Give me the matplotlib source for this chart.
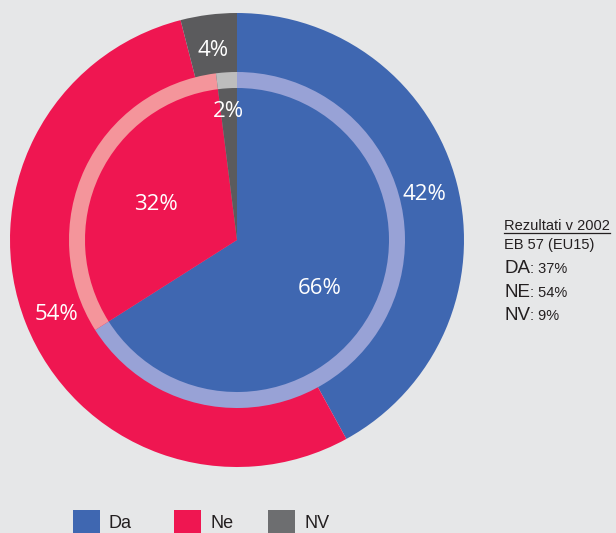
import numpy as np
import matplotlib.pyplot as plt

# data
categories = ['Da', 'Ne', 'NV']
outer_vals = [42, 54, 4]
inner_vals = [66, 32, 2]
colors = ['#3f67b1', '#ef1651', '#5b5b5d']
ring_colors = ['#98a2d6', '#f4959b', '#bdbdbd']
legend_colors = ['#3f67b1', '#ef1651', '#6d6e70']
side_title = 'Rezultati v 2002'
side_sub = 'EB 57 (EU15)'
side_keys = ['DA', 'NE', 'NV']
side_vals = ['37%', '54%', '9%']

bg = '#e6e7e8'
txt = '#231f20'
W, H = 616, 533
fig = plt.figure(figsize=(W / 100, H / 100), dpi=100, facecolor=bg)
ax = fig.add_axes([0, 0, 1, 1])
ax.set_facecolor(bg)

cx, cy = 237, H - 240
r_out, r_ring, r_in = 227, 168, 152

kw = dict(startangle=90, counterclock=False, center=(cx, cy),
          wedgeprops=dict(linewidth=0))
ax.pie(outer_vals, radius=r_out, colors=colors, **kw)
ax.pie(inner_vals, radius=r_ring, colors=ring_colors, **kw)
ax.pie(inner_vals, radius=r_in, colors=colors, **kw)

ax.set_xlim(0, W)
ax.set_ylim(0, H)
ax.set_aspect('auto')
ax.axis('off')


def add_labels(vals, radii):
    cum = np.cumsum([0] + vals)
    for i, v in enumerate(vals):
        mid = np.deg2rad(90 - (cum[i] + v / 2) / 100 * 360)
        ax.text(cx + radii[i] * np.cos(mid), cy + radii[i] * np.sin(mid) - 3,
                f'{v}%', color='white', fontsize=16, family='Open Sans',
                ha='center', va='center')


add_labels(outer_vals, [194, 194, 194])
add_labels(inner_vals, [94, 90, 132])

# side text
tx = 504
t = ax.text(tx, H - 230, side_title, fontsize=10.5, family='Liberation Sans',
            color=txt, va='baseline')
ax.text(tx, H - 249, side_sub, fontsize=10.5, family='Liberation Sans',
        color=txt, va='baseline')
keys = []
for i, k in enumerate(side_keys):
    y = H - [273, 297, 320][i]
    keys.append(ax.text(tx, y, k, fontsize=13.5, family='Liberation Sans',
                        color=txt, va='baseline'))

fig.canvas.draw()
bb = t.get_window_extent()
ax.plot([bb.x0, bb.x1], [H - 232.5, H - 232.5], color=txt, lw=0.9)
for k, v in zip(keys, side_vals):
    kb = k.get_window_extent()
    ax.text(kb.x1, k.get_position()[1], ': ' + v, fontsize=10.5,
            family='Liberation Sans', color=txt, va='baseline')

# legend
lx = [73, 174, 268]
for x, c, name in zip(lx, legend_colors, categories):
    ax.add_patch(plt.Rectangle((x, 0), 27, H - 510, color=c, lw=0))
    ax.text(x + 36, H - 523, name, fontsize=13, family='Liberation Sans',
            color=txt, va='center')

fig.savefig('out.png', dpi=100, facecolor=bg)
